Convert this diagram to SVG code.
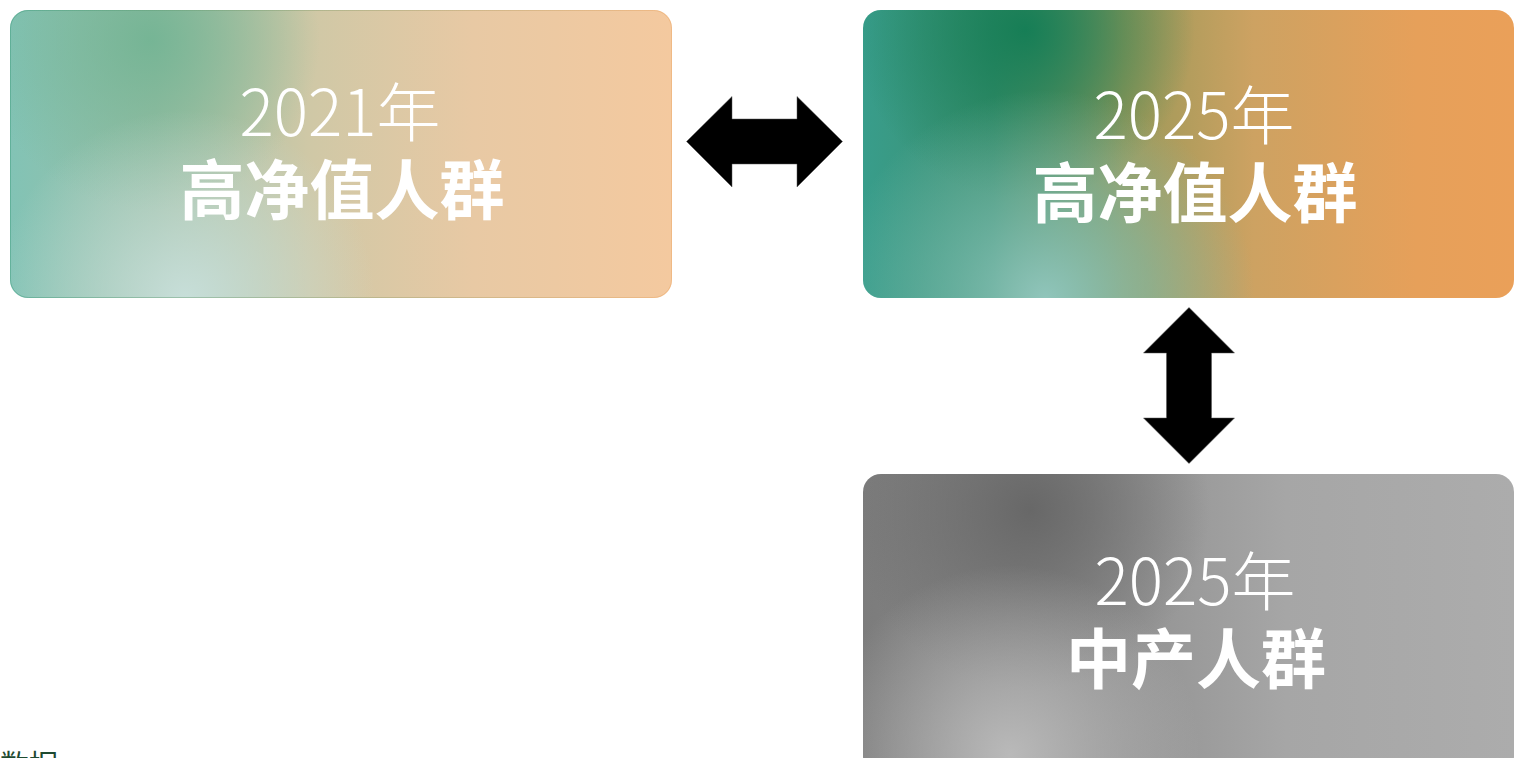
<svg xmlns="http://www.w3.org/2000/svg" width="1514" height="758" viewBox="0 0 1514 758">
  <style>
    .yr { font-family: "Noto Sans CJK SC", "Noto Sans", sans-serif; font-weight: 300; font-size: 64px; fill: #ffffff; text-anchor: middle; }
    .nm { font-family: "Noto Sans CJK SC", "Noto Sans", sans-serif; font-weight: 700; font-size: 65px; fill: #ffffff; text-anchor: middle; }
    .arrow { fill: #000000; stroke: #555555; stroke-width: 0.5; }
    .note { font-family: "Noto Sans CJK SC", sans-serif; font-size: 29px; fill: #1e4a30; }
  </style>
  <defs>
    <linearGradient id="g1" x1="0" y1="0" x2="1" y2="0">
      <stop offset="0" stop-color="#82c3b5"/>
      <stop offset="0.22" stop-color="#9dbfa6"/>
      <stop offset="0.45" stop-color="#cfc8a6"/>
      <stop offset="0.7" stop-color="#e8c9a4"/>
      <stop offset="1" stop-color="#f4c99f"/>
    </linearGradient>
    <radialGradient id="g1a" cx="150" cy="40" r="170" gradientUnits="userSpaceOnUse">
      <stop offset="0" stop-color="#6fb392" stop-opacity="0.85"/>
      <stop offset="1" stop-color="#6fb392" stop-opacity="0"/>
    </radialGradient>
    <radialGradient id="g1b" cx="185" cy="300" r="190" gradientUnits="userSpaceOnUse">
      <stop offset="0" stop-color="#c9e0dc" stop-opacity="0.95"/>
      <stop offset="1" stop-color="#c9e0dc" stop-opacity="0"/>
    </radialGradient>
    <linearGradient id="s1" x1="0" y1="0" x2="1" y2="0">
      <stop offset="0" stop-color="#3b9a7a"/>
      <stop offset="1" stop-color="#eaa665"/>
    </linearGradient>

    <linearGradient id="g2" x1="0" y1="0" x2="1" y2="0">
      <stop offset="0" stop-color="#389d8b"/>
      <stop offset="0.2" stop-color="#3e8f6e"/>
      <stop offset="0.4" stop-color="#9a9858"/>
      <stop offset="0.6" stop-color="#cda262"/>
      <stop offset="0.85" stop-color="#e6a05a"/>
      <stop offset="1" stop-color="#eaa059"/>
    </linearGradient>
    <radialGradient id="g2a" cx="1025" cy="30" r="170" gradientUnits="userSpaceOnUse">
      <stop offset="0" stop-color="#137d55" stop-opacity="0.95"/>
      <stop offset="1" stop-color="#137d55" stop-opacity="0"/>
    </radialGradient>
    <radialGradient id="g2b" cx="1045" cy="300" r="210" gradientUnits="userSpaceOnUse">
      <stop offset="0" stop-color="#93c8c0" stop-opacity="0.95"/>
      <stop offset="0.5" stop-color="#7fbfb4" stop-opacity="0.55"/>
      <stop offset="1" stop-color="#7fbfb4" stop-opacity="0"/>
    </radialGradient>

    <linearGradient id="g3" x1="0" y1="0" x2="1" y2="0">
      <stop offset="0" stop-color="#7c7c7c"/>
      <stop offset="0.35" stop-color="#8e8e8e"/>
      <stop offset="0.65" stop-color="#a6a6a6"/>
      <stop offset="1" stop-color="#acacac"/>
    </linearGradient>
    <radialGradient id="g3a" cx="1030" cy="510" r="180" gradientUnits="userSpaceOnUse">
      <stop offset="0" stop-color="#666666" stop-opacity="0.95"/>
      <stop offset="1" stop-color="#666666" stop-opacity="0"/>
    </radialGradient>
    <radialGradient id="g3b" cx="1010" cy="755" r="190" gradientUnits="userSpaceOnUse">
      <stop offset="0" stop-color="#bcbcbc" stop-opacity="0.95"/>
      <stop offset="1" stop-color="#bcbcbc" stop-opacity="0"/>
    </radialGradient>
  </defs>

  <g id="node-2021-hnw">
    <rect x="10" y="10" width="662" height="288" rx="18" fill="url(#g1)"/>
    <rect x="10" y="10" width="662" height="288" rx="18" fill="url(#g1a)"/>
    <rect x="10" y="10" width="662" height="288" rx="18" fill="url(#g1b)"/>
    <rect x="10.5" y="10.5" width="661" height="287" rx="18" fill="none" stroke="url(#s1)" stroke-width="1" stroke-opacity="0.45"/>
    <text class="yr" x="340" y="136">2021年</text>
    <text class="nm" x="342" y="214">高净值人群</text>
  </g>

  <g id="node-2025-hnw">
    <rect x="863" y="10" width="651" height="288" rx="18" fill="url(#g2)"/>
    <rect x="863" y="10" width="651" height="288" rx="18" fill="url(#g2a)"/>
    <rect x="863" y="10" width="651" height="288" rx="18" fill="url(#g2b)"/>
    <text class="yr" x="1194" y="139">2025年</text>
    <text class="nm" x="1195" y="217">高净值人群</text>
  </g>

  <g id="node-2025-middle">
    <rect x="863" y="474" width="651" height="300" rx="18" fill="url(#g3)"/>
    <rect x="863" y="474" width="651" height="300" rx="18" fill="url(#g3a)"/>
    <rect x="863" y="474" width="651" height="300" rx="18" fill="url(#g3b)"/>
    <text class="yr" x="1195" y="605">2025年</text>
    <text class="nm" x="1196" y="683">中产人群</text>
  </g>

  <g id="connectors">
    <polygon class="arrow" points="686.5,141.5 732,96.5 732,119 797,119 797,96.5 842.5,141.5 797,187 797,164 732,164 732,187"/>
    <polygon class="arrow" points="1189,307.5 1234.5,353 1211.5,353 1211.5,418 1234.5,418 1189,463.5 1143.5,418 1166.5,418 1166.5,353 1143.5,353"/>
  </g>

  <text class="note" x="0" y="776">数据</text>
</svg>
